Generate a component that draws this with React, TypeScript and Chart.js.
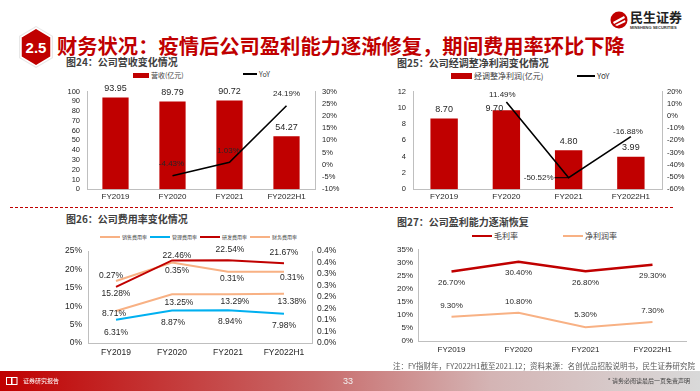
import React, { useEffect, useRef } from 'react';
import { Chart, registerables } from 'chart.js';

Chart.register(...registerables);

// ---------- data ----------
const CATEGORIES = ['FY2019', 'FY2020', 'FY2021', 'FY2022H1'];

const REVENUE_NAME = '营收(亿元)';
const REVENUE = [93.95, 89.79, 90.72, 54.27];
const REVENUE_YOY = [null, -4.43, 1.03, 24.19];

const ADJ_PROFIT_NAME = '经调整净利润(亿元)';
const ADJ_PROFIT = [8.7, 9.7, 4.8, 3.99];
const ADJ_PROFIT_YOY = [null, 11.49, -50.52, -16.88];

const YOY_NAME = 'YoY';

const RATE_NAMES = ['销售费用率', '管理费用率', '研发费用率', '财务费用率'];
const SELLING_RATE = [8.71, 13.25, 13.29, 13.38];
const ADMIN_RATE = [6.31, 8.87, 8.94, 7.98];
const RD_RATE = [15.28, 22.46, 22.54, 21.67];
const FIN_RATE = [0.27, 0.35, 0.31, 0.31];
const FIN_RATE_TICKS = ['0.0%', '0.1%', '0.1%', '0.2%', '0.2%', '0.3%', '0.3%', '0.4%', '0.4%'];

const MARGIN_NAMES = ['毛利率', '净利润率'];
const GROSS_MARGIN = [26.7, 30.4, 26.8, 29.3];
const NET_MARGIN = [9.3, 10.8, 5.3, 7.3];

// ---------- styles ----------
const RED = '#C00000';
const ORANGE = '#F8B184';
const BLUE = '#00B0F0';
const AXIS = '#BFBFBF';
const TEXT = '#262626';
const LATIN = "'Liberation Sans', Arial, sans-serif";
const CJK = "'Noto Sans CJK SC', 'Noto Sans', sans-serif";

const fix2 = (v: number) => v.toFixed(2);
const pct2 = (v: number) => v.toFixed(2) + '%';

const labelPlugin = {
  id: 'valueLabels',
  afterDatasetsDraw(chart: any) {
    const ctx = chart.ctx;
    chart.data.datasets.forEach((ds: any, i: number) => {
      const cfg = ds.labelCfg;
      if (!cfg) return;
      const meta = chart.getDatasetMeta(i);
      meta.data.forEach((el: any, j: number) => {
        const v = ds.data[j];
        if (v == null || !cfg.offsets[j]) return;
        const [dx, dy] = cfg.offsets[j];
        const text = cfg.fmt(v);
        ctx.save();
        ctx.font = `${cfg.size}px ${LATIN}`;
        ctx.fillStyle = cfg.color || TEXT;
        ctx.textAlign = 'center';
        ctx.textBaseline = 'middle';
        ctx.fillText(text, el.x + dx, el.y + dy);
        if (cfg.leaders && cfg.leaders[j]) {
          const w = ctx.measureText(text).width;
          ctx.strokeStyle = '#000';
          ctx.lineWidth = 1;
          ctx.beginPath();
          ctx.moveTo(el.x + dx + w / 2 + 1, el.y + dy);
          ctx.lineTo(el.x, el.y);
          ctx.stroke();
        }
        ctx.restore();
      });
    });
  },
};

function xScale(height: number, padding: number, size: number) {
  return {
    offset: true,
    grid: { display: false, drawTicks: false },
    border: { display: true, color: AXIS },
    ticks: { font: { family: LATIN, size }, color: TEXT, padding, maxRotation: 0, autoSkip: false },
    afterFit: (s: any) => { s.height = height; },
  };
}

function yScale(position: string, width: number, min: number, max: number, step: number, padding: number, size: number, cb: any) {
  return {
    position,
    min,
    max,
    grid: { display: false, drawTicks: false },
    border: { display: true, color: AXIS },
    ticks: { stepSize: step, autoSkip: false, font: { family: LATIN, size }, color: TEXT, padding, callback: cb },
    afterFit: (s: any) => { s.width = width; },
  };
}

function baseOptions(padding: any, scales: any) {
  return {
    responsive: false,
    animation: false,
    devicePixelRatio: 1,
    layout: { padding },
    plugins: { legend: { display: false }, tooltip: { enabled: false } },
    scales,
  };
}

function ChartBox({ left, top, width, height, config }: any) {
  const ref = useRef<HTMLCanvasElement>(null);
  useEffect(() => {
    const chart = new Chart(ref.current as HTMLCanvasElement, { ...config, plugins: [labelPlugin] });
    return () => chart.destroy();
  }, []);
  return (
    <canvas
      ref={ref}
      width={width}
      height={height}
      style={{ position: 'absolute', left, top, width, height }}
    />
  );
}

const numCb = (v: any) => String(v);
const pctCb = (v: any) => v + '%';

const config24 = {
  type: 'bar',
  data: {
    labels: CATEGORIES,
    datasets: [
      {
        type: 'bar', label: REVENUE_NAME, data: REVENUE, backgroundColor: RED,
        barPercentage: 0.46, categoryPercentage: 1, yAxisID: 'y', order: 1,
        labelCfg: { fmt: fix2, size: 9, offsets: [[0, -9], [0, -9], [0, -9], [0, -9]] },
      },
      {
        type: 'line', label: YOY_NAME, data: REVENUE_YOY, borderColor: '#000', borderWidth: 1.6,
        pointRadius: 0, yAxisID: 'y1', order: 0,
        labelCfg: { fmt: pct2, size: 8, offsets: [null, [-1, -12], [-1, -12], [0, -11.5]] },
      },
    ],
  },
  options: baseOptions({ top: 7.7, left: 0, right: 0, bottom: 0 }, {
    x: xScale(15.7, 3, 8),
    y: yScale('left', 47, 0, 100, 10, 7, 7.5, numCb),
    y1: yScale('right', 45, -10, 30, 5, 7, 7.5, pctCb),
  }),
};

const config25 = {
  type: 'bar',
  data: {
    labels: CATEGORIES,
    datasets: [
      {
        type: 'bar', label: ADJ_PROFIT_NAME, data: ADJ_PROFIT, backgroundColor: RED,
        barPercentage: 0.44, categoryPercentage: 1, yAxisID: 'y', order: 1,
        labelCfg: { fmt: fix2, size: 9, offsets: [[0, -9], [-12, -2], [0, -9], [0, -9]] },
      },
      {
        type: 'line', label: YOY_NAME, data: ADJ_PROFIT_YOY, borderColor: '#000', borderWidth: 1.6,
        pointRadius: 0, yAxisID: 'y1', order: 0,
        labelCfg: { fmt: pct2, size: 8, offsets: [null, [-4, -7], [-30, 0], [-3, -5]], leaders: [false, false, true, false] },
      },
    ],
  },
  options: baseOptions({ top: 10.7, left: 0, right: 0, bottom: 0 }, {
    x: xScale(15.7, 3, 8),
    y: yScale('left', 43, 0, 12, 2, 7, 7.5, numCb),
    y1: yScale('right', 38, -60, 20, 10, 5, 7.5, pctCb),
  }),
};

const config26 = {
  type: 'line',
  data: {
    labels: CATEGORIES,
    datasets: [
      {
        label: RATE_NAMES[0], data: SELLING_RATE, borderColor: ORANGE, borderWidth: 2, pointRadius: 0, yAxisID: 'y',
        labelCfg: { fmt: pct2, size: 8.5, offsets: [[-2, 3], [7, 8], [7, 8], [8, 8]] },
      },
      {
        label: RATE_NAMES[1], data: ADMIN_RATE, borderColor: BLUE, borderWidth: 2, pointRadius: 0, yAxisID: 'y',
        labelCfg: { fmt: pct2, size: 8.5, offsets: [[0, 13], [1, 12], [2, 12], [0, 12]] },
      },
      {
        label: RATE_NAMES[2], data: RD_RATE, borderColor: RED, borderWidth: 2, pointRadius: 0, yAxisID: 'y',
        labelCfg: { fmt: pct2, size: 8.5, offsets: [[0, 7], [5, -5], [2, -10], [0, -11]] },
      },
      {
        label: RATE_NAMES[3], data: FIN_RATE, borderColor: ORANGE, borderWidth: 2, pointRadius: 0, yAxisID: 'y1',
        labelCfg: { fmt: pct2, size: 8.5, offsets: [[-5, -5], [5, 8], [4, 7], [8, 6]] },
      },
    ],
  },
  options: baseOptions({ top: 8, left: 0, right: 0, bottom: 0 }, {
    x: xScale(22, 5, 8.5),
    y: yScale('left', 48, 0, 25, 5, 6, 8.5, pctCb),
    y1: yScale('right', 48, 0, 0.4, 0.05, 5, 8.5, (_v: any, i: number) => FIN_RATE_TICKS[i]),
  }),
};

const config27 = {
  type: 'line',
  data: {
    labels: CATEGORIES,
    datasets: [
      {
        label: MARGIN_NAMES[0], data: GROSS_MARGIN, borderColor: RED, borderWidth: 2.5, pointRadius: 0,
        labelCfg: { fmt: pct2, size: 8, offsets: [[0, 11], [0, 11], [0, 12], [0, 11]] },
      },
      {
        label: MARGIN_NAMES[1], data: NET_MARGIN, borderColor: ORANGE, borderWidth: 2, pointRadius: 0,
        labelCfg: { fmt: pct2, size: 8, offsets: [[0, -11], [0, -11], [0, -12], [0, -11.5]] },
      },
    ],
  },
  options: baseOptions({ top: 4, left: 0, right: 14, bottom: 0 }, {
    x: xScale(24, 4, 8),
    y: yScale('left', 48, 0, 35, 5, 5, 8, pctCb),
  }),
};

// ---------- html helpers ----------
const abs = (s: any) => ({ position: 'absolute', whiteSpace: 'nowrap', ...s });

function Subtitle({ x, y, text }: any) {
  return <div style={abs({ left: x, top: y, fontSize: 10, lineHeight: '12px', fontWeight: 700, color: '#404040' })}>{text}</div>;
}

function LegendItem({ x, y, kind, color, text, w = 20, size = 7, gap = 2, thick = 2, boxH = 4 }: any) {
  return (
    <div style={abs({ left: x, top: y - 6, height: 12, display: 'flex', alignItems: 'center' })}>
      <span style={{ display: 'inline-block', width: w, height: kind === 'box' ? boxH : thick, background: color, marginRight: gap }} />
      <span style={{ fontSize: size, color: '#404040', lineHeight: '12px' }}>{text}</span>
    </div>
  );
}

export default function App() {
  useEffect(() => {
    document.body.style.margin = '0';
  }, []);
  return (
    <div style={{ position: 'fixed', left: 0, top: 0, width: 700, height: 391, background: '#fff', overflow: 'hidden', fontFamily: CJK }}>
      {/* badge */}
      <svg style={{ position: 'absolute', left: 16, top: 24 }} width={40} height={46}>
        <polygon points="20,2 37,12 37,34 20,44 3,34 3,12" fill="#E8E8E8" />
        <polygon points="20,4 35,13 35,33 20,42 5,33 5,13" fill={RED} stroke="#fff" strokeWidth={1.5} />
        <text x={20} y={28.5} textAnchor="middle" fill="#fff" fontSize={15} fontWeight={700} fontFamily={LATIN}>2.5</text>
      </svg>
      {/* title */}
      <div style={abs({ left: 57, top: 32, fontSize: 20.3, lineHeight: '26px', fontWeight: 700, color: RED })}>
        财务状况：疫情后公司盈利能力逐渐修复，期间费用率环比下降
      </div>
      {/* logo */}
      <svg style={{ position: 'absolute', left: 610, top: 10 }} width={20} height={20}>
        <circle cx={9} cy={10} r={8.5} fill={RED} />
        <path d="M3,12 L14,6 L15,8 L4,14 Z" fill="#fff" />
        <path d="M5,15 L15,10 L15.5,12 L7,16 Z" fill="#fff" />
      </svg>
      <div style={abs({ left: 630, top: 9, fontSize: 13, lineHeight: '16px', fontWeight: 700, color: '#222' })}>民生证券</div>
      <div style={abs({ left: 630, top: 25, fontSize: 4, lineHeight: '5px', fontWeight: 700, color: '#333', fontFamily: LATIN })}>MINSHENG SECURITIES</div>

      <Subtitle x={66} y={56} text="图24：公司营收变化情况" />
      <Subtitle x={397} y={57} text="图25：公司经调整净利润变化情况" />
      <Subtitle x={66} y={213} text="图26：公司费用率变化情况" />
      <Subtitle x={397} y={216} text="图27：公司盈利能力逐渐恢复" />

      {/* legends */}
      <LegendItem x={133} y={75} kind="box" color={RED} text={REVENUE_NAME} w={16} boxH={5} size={7} />
      <LegendItem x={243} y={74} kind="line" color="#000" text={YOY_NAME} w={14} size={7} />
      <LegendItem x={451} y={76} kind="box" color={RED} text={ADJ_PROFIT_NAME} w={21} boxH={6} size={8} />
      <LegendItem x={577} y={76} kind="line" color="#000" text={YOY_NAME} w={18} size={8} />

      <LegendItem x={100} y={237} kind="line" color={ORANGE} text={RATE_NAMES[0]} w={20} size={5} thick={1.5} />
      <LegendItem x={150} y={237} kind="line" color={BLUE} text={RATE_NAMES[1]} w={20} size={5} thick={1.5} />
      <LegendItem x={200} y={237} kind="line" color={RED} text={RATE_NAMES[2]} w={20} size={5} thick={1.5} />
      <LegendItem x={250} y={237} kind="line" color={ORANGE} text={RATE_NAMES[3]} w={20} size={5} thick={1.5} />

      <LegendItem x={472} y={236} kind="line" color={RED} text={MARGIN_NAMES[0]} w={20} size={8} thick={2.5} />
      <LegendItem x={563} y={236} kind="line" color={ORANGE} text={MARGIN_NAMES[1]} w={20} size={8} thick={2} />

      <ChartBox left={40} top={80} width={320} height={125} config={config24} />
      <ChartBox left={370} top={80} width={330} height={125} config={config25} />
      <ChartBox left={40} top={240} width={320} height={125} config={config26} />
      <ChartBox left={370} top={240} width={330} height={125} config={config27} />

      {/* dashed separator */}
      <div style={abs({ left: 10, top: 207, width: 663, height: 0, borderTop: `1px dashed ${RED}` })} />

      {/* note */}
      <div style={abs({ right: 5, top: 361, fontSize: 7.5, lineHeight: '10px', color: '#595959' })}>
        注：FY指财年，FY2022H1截至2021.12；资料来源：名创优品招股说明书，民生证券研究院
      </div>

      {/* footer */}
      <div style={abs({ left: 0, top: 371, width: 700, height: 20, background: 'linear-gradient(90deg, #C00000 0%, #C86A6A 45%, #D4B4B4 70%, #D9D9D9 100%)' })}>
        <svg style={{ position: 'absolute', left: 6, top: 6 }} width={12} height={8}>
          <rect x={0.5} y={0.5} width={5} height={7} fill="none" stroke="#fff" strokeWidth={1} />
          <rect x={6} y={0.5} width={5} height={7} fill="none" stroke="#fff" strokeWidth={1} />
        </svg>
        <div style={abs({ left: 23, top: 5, fontSize: 6, lineHeight: '10px', color: '#fff' })}>证券研究报告</div>
        <div style={abs({ left: 343, top: 4, fontSize: 9, lineHeight: '12px', color: '#F2F2F2', fontFamily: LATIN })}>33</div>
        <div style={abs({ right: 10, top: 5, fontSize: 6, lineHeight: '10px', color: '#404040' })}>* 请务必阅读最后一页免责声明</div>
      </div>
    </div>
  );
}
